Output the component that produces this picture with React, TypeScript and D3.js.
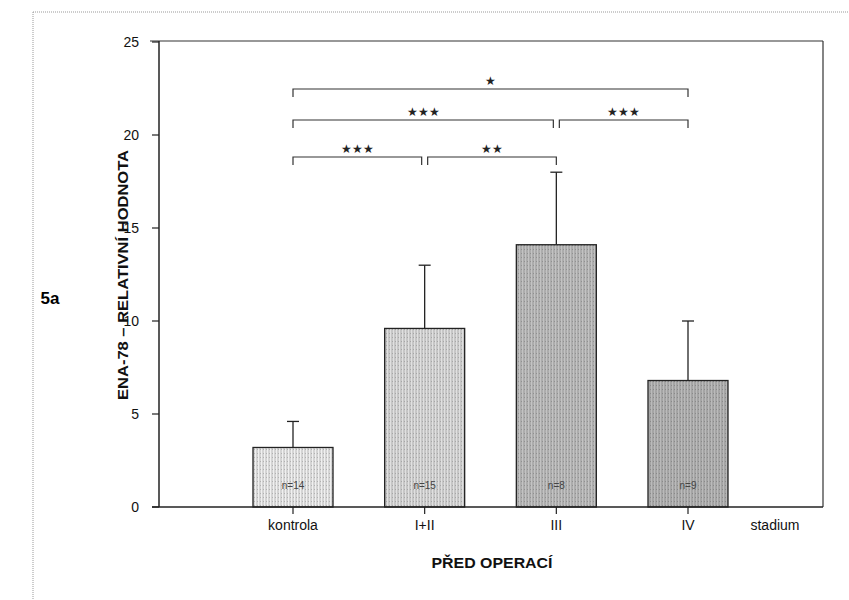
import React from "react";
import * as d3 from "d3";

const categories = ["kontrola", "I+II", "III", "IV"];
const means = [3.2, 9.6, 14.1, 6.8];
const errTops = [4.6, 13.0, 18.0, 10.0];
const nLabels = ["n=14", "n=15", "n=8", "n=9"];
const fills = ["#d4d4d4", "#c6c6c6", "#acacac", "#a4a4a4"];
const yTicks = [0, 5, 10, 15, 20, 25];
// brackets: [fromIndex, toIndex, label, row]
const brackets: [number, number, string, number][] = [
  [0, 3, "*", 0],
  [0, 2, "***", 1],
  [2, 3, "***", 1],
  [0, 1, "***", 2],
  [1, 2, "**", 2],
];

const W = 849;
const H = 600;
const left = 159;
const right = 823;
const top = 41;
const bottom = 507;

export default function App() {
  const y = d3.scaleLinear().domain([0, 25]).range([bottom, 42]);
  const x = d3.scalePoint<string>().domain(categories).range([293, 688]);
  const bw = 80;
  const rowY = [89, 120, 157];
  const font = "'Liberation Sans', Arial, sans-serif";
  return (
    <svg width={W} height={H} style={{ position: "absolute", left: 0, top: 0, background: "#fff" }} fontFamily={font}>
      <defs>
        {fills.map((f, i) => (
          <pattern key={i} id={`pat${i}`} width={3} height={4} patternUnits="userSpaceOnUse">
            <rect width={3} height={4} fill={f} />
            <rect x={0} width={1} height={4} fill={d3.color(f)!.brighter(0.35).formatHex()} />
            <rect x={2} y={1} width={1} height={1} fill={d3.color(f)!.darker(0.5).formatHex()} />
          </pattern>
        ))}
      </defs>
      {/* outer dotted frame */}
      <line x1={33} y1={12} x2={W} y2={12} stroke="#999" strokeDasharray="1,1" strokeWidth={1} />
      <line x1={33} y1={12} x2={33} y2={H} stroke="#999" strokeDasharray="1,1" strokeWidth={1} />
      <text x={50} y={304} fontSize={17} fontWeight="bold" textAnchor="middle">5a</text>
      {/* plot frame */}
      <line x1={150} y1={top} x2={right} y2={top} stroke="#333" strokeWidth={1.2} />
      <line x1={right} y1={top} x2={right} y2={bottom} stroke="#333" strokeWidth={1.2} />
      {/* bars */}
      {categories.map((c, i) => {
        const cx = x(c)!;
        return (
          <g key={c}>
            <line x1={cx} x2={cx} y1={y(means[i])} y2={y(errTops[i])} stroke="#222" strokeWidth={1.3} />
            <line x1={cx - 6} x2={cx + 6} y1={y(errTops[i])} y2={y(errTops[i])} stroke="#222" strokeWidth={1.3} />
            <rect x={cx - bw / 2} y={y(means[i])} width={bw} height={y(0) - y(means[i])} fill={`url(#pat${i})`} stroke="#222" strokeWidth={1.3} />
            <text x={cx} y={489} fontSize={10} textAnchor="middle" fill="#444">{nLabels[i]}</text>
            <line x1={cx} x2={cx} y1={bottom} y2={bottom + 7} stroke="#222" strokeWidth={1.2} />
            <text x={cx} y={530} fontSize={14} textAnchor="middle" fill="#111">{c}</text>
          </g>
        );
      })}
      {/* axes */}
      <line x1={left} y1={top} x2={left} y2={bottom} stroke="#222" strokeWidth={1.5} />
      <line x1={152} y1={bottom} x2={right} y2={bottom} stroke="#222" strokeWidth={1.5} />
      {yTicks.map((t) => (
        <g key={t}>
          <line x1={152} x2={left} y1={y(t)} y2={y(t)} stroke="#222" strokeWidth={1.2} />
          <text x={139} y={y(t) + 5} fontSize={14} textAnchor="end" fill="#111">{t}</text>
        </g>
      ))}
      <text x={775} y={530} fontSize={14} textAnchor="middle" fill="#111">stadium</text>
      <text x={492} y={568} fontSize={15} textAnchor="middle" fill="#111" fontWeight="bold" textLength={121} lengthAdjust="spacingAndGlyphs">PŘED OPERACÍ</text>
      <text transform={`translate(128,${275}) rotate(-90)`} fontSize={15} textAnchor="middle" fill="#111" fontWeight="bold" textLength={250} lengthAdjust="spacingAndGlyphs">ENA-78 – RELATIVNÍ HODNOTA</text>
      {/* significance brackets */}
      {brackets.map(([a, b, lab, row], k) => {
        let x1 = x(categories[a])!;
        let x2 = x(categories[b])!;
        if (row > 0 && a > 0) x1 += 3;
        if (row > 0 && b < 3 && brackets.some((o) => o[3] === row && o[0] === b)) x2 -= 3;
        const yy = rowY[row];
        return (
          <g key={k}>
            <path d={`M${x1},${yy + 8}V${yy}H${x2}V${yy + 8}`} fill="none" stroke="#333" strokeWidth={1.2} />
            <text x={(x1 + x2) / 2} y={yy - 4} fontSize={12} textAnchor="middle" fill="#222">{lab.replace(/\*/g, "★")}</text>
          </g>
        );
      })}
    </svg>
  );
}
